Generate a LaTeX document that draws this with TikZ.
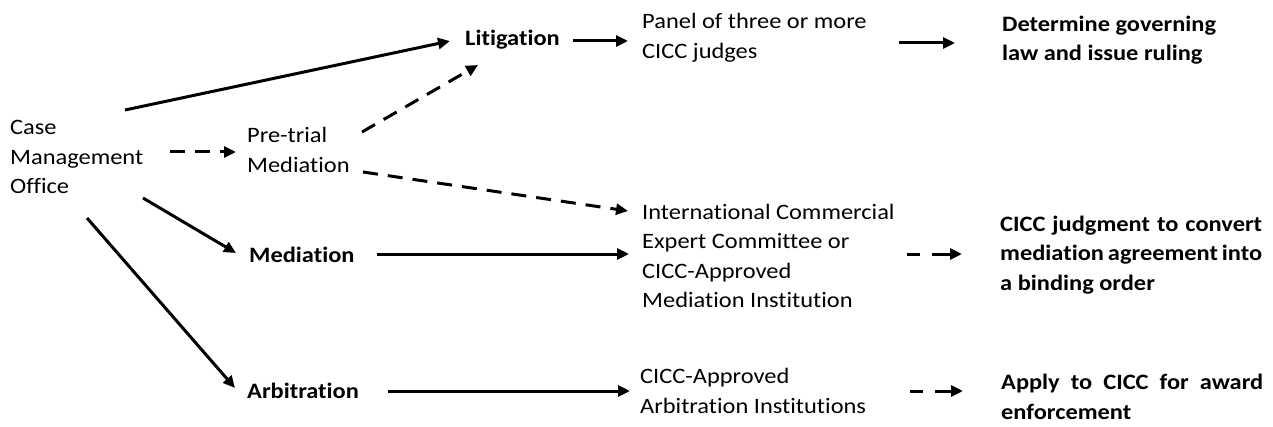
\documentclass[tikz,border=0pt]{standalone}
\usepackage{fontspec}
\setmainfont{Carlito}[FakeStretch=1.11,Ligatures=NoCommon]
\usetikzlibrary{arrows.meta}
\newcommand\jl[1]{\makebox[262pt][s]{#1}}
\begin{document}
\begin{tikzpicture}[x=1pt,y=1pt,
  txt/.style={anchor=west,inner sep=0pt,align=left,font=\fontsize{22}{29.5}\selectfont},
  bld/.style={txt,font=\fontsize{22}{29.5}\selectfont\bfseries},
  arr/.style={line width=3pt,-{Triangle[length=12pt,width=11pt]}},
  darr/.style={arr,dash pattern=on 15pt off 10pt},
  sarr/.style={arr,dash pattern=on 13pt off 12pt on 80pt off 1pt}]
\useasboundingbox (0,0) rectangle (1273,426);
\fill[white] (0,0) rectangle (1273,426);
% nodes
\node[txt] (cmo) at (10,269) {Case\\Management\\Office};
\node[txt] (pre) at (247,276) {Pre-trial\\Mediation};
\node[bld] (lit) at (465,386) {Litigation};
\node[txt] (panel) at (642,388) {Panel of three or more\\CICC judges};
\node[bld] (det) at (1002,386) {Determine governing\\law and issue ruling};
\node[bld] (med) at (249,171) {Mediation};
\node[txt] (iec) at (642,170) {International Commercial\\Expert Committee or\\CICC-Approved\\Mediation Institution};
\node[bld] (cj) at (1000,171) {\jl{CICC judgment to convert}\\\jl{mediation agreement into}\\a binding order};
\node[bld] (arb) at (247,35) {Arbitration};
\node[txt] (cao) at (640,35) {CICC-Approved\\Arbitration Institutions};
\node[bld] (apply) at (1001,29) {\jl{Apply to CICC for award}\\enforcement};
% connectors
\draw[arr] ([shift={(115pt,47pt)}]cmo.west) -- ([shift={(-15pt,-1pt)}]lit.west);
\draw[darr] ([shift={(160pt,5pt)}]cmo.west) -- ([shift={(-11pt,-2pt)}]pre.west);
\draw[darr] ([shift={(115pt,18pt)}]pre.west) -- ([shift={(13pt,-25pt)}]lit.west);
\draw[darr] ([shift={(116pt,-22pt)}]pre.west) -- ([shift={(-14pt,45pt)}]iec.west);
\draw[arr] ([shift={(133pt,-41pt)}]cmo.west) -- ([shift={(-13pt,2pt)}]med.west);
\draw[arr] ([shift={(77pt,-61pt)}]cmo.west) -- ([shift={(-12pt,3pt)}]arb.west);
\draw[arr] ([shift={(108pt,-1pt)}]lit.west) -- ([shift={(-14pt,-3pt)}]panel.west);
\draw[arr] ([shift={(257pt,-5pt)}]panel.west) -- ([shift={(-47pt,-3pt)}]det.west);
\draw[arr] ([shift={(128pt,1pt)}]med.west) -- ([shift={(-13pt,2pt)}]iec.west);
\draw[sarr] ([shift={(265pt,2pt)}]iec.west) -- ([shift={(-38pt,1pt)}]cj.west);
\draw[arr] ([shift={(141pt,0pt)}]arb.west) -- ([shift={(-10pt,0pt)}]cao.west);
\draw[sarr] ([shift={(270pt,0pt)}]cao.west) -- ([shift={(-38pt,6pt)}]apply.west);
\end{tikzpicture}
\end{document}
